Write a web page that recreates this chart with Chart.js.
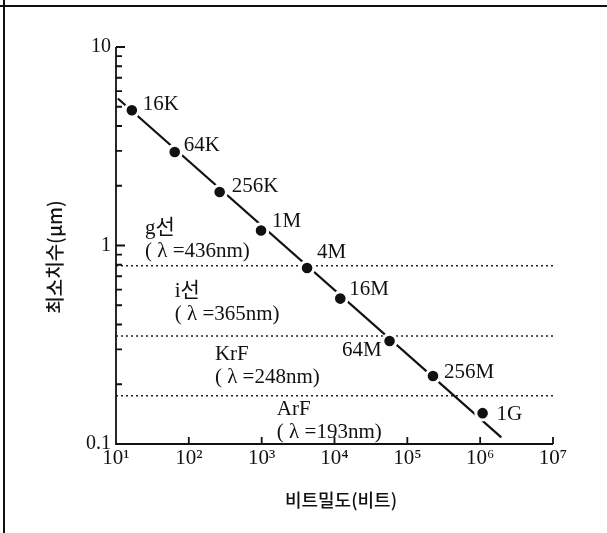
<!DOCTYPE html>
<html>
<head>
<meta charset="utf-8">
<script src="https://cdn.jsdelivr.net/npm/chart.js@4.4.1/dist/chart.umd.min.js"></script>
<style>
  html, body { margin: 0; padding: 0; background: #fff; }
  #wrap { width: 607px; height: 533px; }
</style>
</head>
<body>
<div id="wrap"><canvas id="chart" width="607" height="533"></canvas></div>
<script>
// DRAM 세대별 최소치수 (값은 그림에서 읽음)
const chips = ['16K', '64K', '256K', '1M', '4M', '16M', '64M', '256M', '1G'];
const bitDensity = [16.5, 64, 265, 980, 4200, 12000, 57000, 225000, 1080000];
const minSize = [4.8, 2.96, 1.86, 1.19, 0.77, 0.54, 0.33, 0.22, 0.143];

// 추세선 양 끝
const trendX = [10.6, 1950000];
const trendY = [5.5, 0.108];

// 노광 광원
const sources = ['g선', 'i선', 'KrF', 'ArF'];
const wavelengths = ['436nm', '365nm', '248nm', '193nm'];
const limits = [0.79, 0.35, 0.175];

const xTicks = [10, 100, 1e3, 1e4, 1e5, 1e6, 1e7];
const xTickLabels = ['10¹', '10²', '10³', '10⁴', '10⁵', '10⁶', '10⁷'];
const yTicks = [0.1, 1, 10];
const yTickLabels = ['0.1', '1', '10'];

const xTitle = '비트밀도(비트)';
const yTitle = '최소치수(μm)';

// 라벨 배치 (픽셀 오프셋 / 데이터 좌표 앵커)
const chipLabelPos = [
  [11, -6, 'left'], [9, -6, 'left'], [12, -6, 'left'], [11, -9, 'left'], [10, -16, 'left'],
  [9, -9, 'left'], [-8, 9, 'right'], [11, -4, 'left'], [14, 1, 'left']
];
const sourceAnchor = [[25, 1.22], [64, 0.589], [228, 0.281], [1617, 0.150]];

const serif = '"Liberation Serif", "Noto Sans CJK KR", serif';
const ink = '#111';

const decor = {
  id: 'decor',
  beforeDraw(chart) {
    const { ctx, width, height } = chart;
    ctx.save();
    ctx.fillStyle = '#fff';
    ctx.fillRect(0, 0, width, height);
    // 바깥 틀 (위, 왼쪽)
    ctx.strokeStyle = ink;
    ctx.lineWidth = 2;
    ctx.beginPath();
    ctx.moveTo(0, 6); ctx.lineTo(width, 6);
    ctx.moveTo(4, 0); ctx.lineTo(4, height);
    ctx.stroke();
    ctx.restore();
  },
  afterDraw(chart) {
    const { ctx, chartArea: a } = chart;
    const xs = chart.scales.x, ys = chart.scales.y;
    ctx.save();
    ctx.strokeStyle = ink;
    ctx.lineWidth = 1.8;
    ctx.beginPath();
    ctx.moveTo(a.left, a.top); ctx.lineTo(a.left, a.bottom); ctx.lineTo(a.right, a.bottom);
    // x 눈금 (안쪽)
    xTicks.forEach(v => {
      const px = xs.getPixelForValue(v);
      ctx.moveTo(px, a.bottom); ctx.lineTo(px, a.bottom - 7);
    });
    // y 눈금 (안쪽, 보조눈금 포함)
    [0.1, 1].forEach(dec => {
      for (let m = 1; m <= 10; m++) {
        const py = ys.getPixelForValue(dec * m);
        const len = (m === 1 || m === 10) ? 9 : 6;
        ctx.moveTo(a.left, py); ctx.lineTo(a.left + len, py);
      }
    });
    ctx.stroke();

    // 칩 라벨
    ctx.fillStyle = ink;
    ctx.font = '21px ' + serif;
    ctx.textBaseline = 'middle';
    chips.forEach((c, i) => {
      const px = xs.getPixelForValue(bitDensity[i]);
      const py = ys.getPixelForValue(minSize[i]);
      const [dx, dy, al] = chipLabelPos[i];
      ctx.textAlign = al;
      ctx.fillText(c, px + dx, py + dy);
    });

    // 광원 라벨
    ctx.textAlign = 'left';
    sources.forEach((s, i) => {
      const px = xs.getPixelForValue(sourceAnchor[i][0]);
      const py = ys.getPixelForValue(sourceAnchor[i][1]);
      ctx.fillText(s, px, py);
      ctx.fillText('( λ =' + wavelengths[i] + ')', px, py + 23);
    });

    // 축 제목
    ctx.font = '500 18px "Noto Sans CJK KR", sans-serif';
    ctx.textAlign = 'center';
    ctx.fillText(xTitle, 341, 500);
    ctx.translate(55, 257);
    ctx.rotate(-Math.PI / 2);
    ctx.font = '500 19px "Noto Sans CJK KR", sans-serif';
    ctx.fillText(yTitle, 0, 0);
    ctx.restore();
  }
};

new Chart(document.getElementById('chart'), {
  type: 'scatter',
  data: {
    datasets: [
      {
        label: 'DRAM',
        data: bitDensity.map((x, i) => ({ x, y: minSize[i] })),
        showLine: false,
        pointRadius: 6.8,
        pointBackgroundColor: ink,
        pointBorderColor: '#fff',
        pointBorderWidth: 3
      },
      {
        label: 'trend',
        data: trendX.map((x, i) => ({ x, y: trendY[i] })),
        showLine: true,
        borderColor: ink,
        borderWidth: 2.2,
        pointRadius: 0
      },
      ...limits.map(v => ({
        label: 'limit',
        data: [{ x: xTicks[0], y: v }, { x: xTicks[xTicks.length - 1], y: v }],
        showLine: true,
        borderColor: '#222',
        borderWidth: 1.6,
        borderDash: [2, 3],
        pointRadius: 0
      }))
    ]
  },
  options: {
    responsive: false,
    animation: false,
    events: [],
    layout: { padding: { top: 47, right: 54, left: 0, bottom: 0 } },
    plugins: { legend: { display: false }, tooltip: { enabled: false } },
    scales: {
      x: {
        type: 'logarithmic',
        min: 10, max: 1e7,
        afterBuildTicks: s => { s.ticks = xTicks.map(v => ({ value: v })); },
        afterFit: s => { s.height = 89; },
        grid: { display: false, drawTicks: false },
        border: { display: false },
        ticks: {
          autoSkip: false, maxRotation: 0, padding: 2, color: ink,
          font: { family: serif, size: 21 },
          callback: v => xTickLabels[xTicks.indexOf(v)]
        }
      },
      y: {
        type: 'logarithmic',
        min: 0.1, max: 10,
        afterBuildTicks: s => { s.ticks = yTicks.map(v => ({ value: v })); },
        afterFit: s => { s.width = 116; },
        grid: { display: false, drawTicks: false },
        border: { display: false },
        ticks: {
          autoSkip: false, padding: 5, color: ink,
          font: { family: serif, size: 20 },
          callback: v => yTickLabels[yTicks.indexOf(v)]
        }
      }
    }
  },
  plugins: [decor]
});
</script>
</body>
</html>
